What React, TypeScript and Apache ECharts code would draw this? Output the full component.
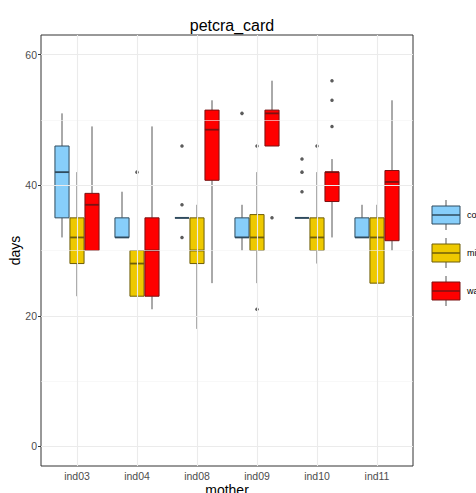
import React, { useEffect, useRef } from "react";
import * as echarts from "echarts";

// Mothers on the x axis, one dodged box per treatment group
const categories = ["ind03", "ind04", "ind08", "ind09", "ind10", "ind11"];
const groups = ["control", "milk", "water"];

// [lower whisker, Q1, median, Q3, upper whisker] per mother
const controlStats = [
  [32, 35, 42, 46, 51],
  [32, 32, 32, 35, 39],
  [35, 35, 35, 35, 35],
  [30, 32, 32, 35, 37],
  [35, 35, 35, 35, 35],
  [32, 32, 32, 35, 37],
];
const milkStats = [
  [23, 28, 32, 35, 42],
  [23, 23, 28, 30, 30],
  [18, 28, 30, 35, 37],
  [25, 30, 32, 35.5, 42],
  [28, 30, 32, 35, 42],
  [25, 25, 32, 35, 37],
];
const waterStats = [
  [30, 30, 37, 38.75, 49],
  [21, 23, 30, 35, 49],
  [25, 40.75, 48.5, 51.5, 53],
  [46, 46, 51, 51.5, 56],
  [32, 37.5, 42, 42, 44],
  [30, 31.5, 40.5, 42.25, 53],
];

// Outlying points: [mother, days]
const controlOutliers: [string, number][] = [
  ["ind08", 46], ["ind08", 37], ["ind08", 32],
  ["ind09", 51],
  ["ind10", 44], ["ind10", 42], ["ind10", 39],
];
const milkOutliers: [string, number][] = [
  ["ind04", 42],
  ["ind09", 46], ["ind09", 21],
  ["ind10", 46],
];
const waterOutliers: [string, number][] = [
  ["ind09", 35],
  ["ind10", 56], ["ind10", 53], ["ind10", 49],
];

const yTicks = [0, 20, 40, 60];
const yMinor = [10, 30, 50];

const fills = ["#87CEFA", "#EEC900", "#FF0000"];
const strokes = ["#2f4b5e", "#6e5e0a", "#7a1212"];
const offsets = [-0.25, 0, 0.25];
const BOX_W = 0.235;
const FONT = "'Liberation Sans', Arial, sans-serif";

function boxRenderer(offset: number, fill: string, stroke: string) {
  return (_params: any, api: any) => {
    const x = api.value(0) + offset;
    const lo = api.coord([x, api.value(1)]);
    const q1 = api.coord([x, api.value(2)]);
    const med = api.coord([x, api.value(3)]);
    const q3 = api.coord([x, api.value(4)]);
    const hi = api.coord([x, api.value(5)]);
    const half = api.size([BOX_W, 0])[0] / 2;
    const cx = med[0];
    return {
      type: "group",
      children: [
        {
          type: "line",
          shape: { x1: cx, y1: hi[1], x2: cx, y2: q3[1] },
          style: { stroke: "#555555", lineWidth: 1 },
        },
        {
          type: "line",
          shape: { x1: cx, y1: q1[1], x2: cx, y2: lo[1] },
          style: { stroke: "#555555", lineWidth: 1 },
        },
        {
          type: "rect",
          shape: { x: cx - half, y: q3[1], width: half * 2, height: q1[1] - q3[1] },
          style: { fill, stroke, lineWidth: 1 },
        },
        {
          type: "line",
          shape: { x1: cx - half, y1: med[1], x2: cx + half, y2: med[1] },
          style: { stroke, lineWidth: 1.8 },
        },
      ],
    };
  };
}

function legendKey(i: number, top: number) {
  const x = 432;
  const w = 28;
  const h = 18;
  const cx = x + w / 2;
  return [
    { type: "line", shape: { x1: cx, y1: top - 6, x2: cx, y2: top + h + 6 }, style: { stroke: "#555555", lineWidth: 1 } },
    { type: "rect", shape: { x, y: top, width: w, height: h }, style: { fill: fills[i], stroke: strokes[i], lineWidth: 1 } },
    { type: "line", shape: { x1: x, y1: top + h / 2, x2: x + w, y2: top + h / 2 }, style: { stroke: strokes[i], lineWidth: 1.5 } },
    {
      type: "text",
      x: 467,
      y: top + h / 2,
      style: { text: groups[i], fill: "#000000", font: `9px ${FONT}`, verticalAlign: "middle" },
    },
  ];
}

export default function App() {
  const ref = useRef<HTMLDivElement>(null);

  useEffect(() => {
    if (!ref.current) return;
    const chart = echarts.init(ref.current, null, { renderer: "svg" });
    const allStats = [controlStats, milkStats, waterStats];
    const allOutliers = [controlOutliers, milkOutliers, waterOutliers];

    const gridLines = [
      ...yTicks.map((v) => ({ yAxis: v, lineStyle: { color: "#ebebeb", width: 1.1 } })),
      ...yMinor.map((v) => ({ yAxis: v, lineStyle: { color: "#f4f4f4", width: 0.6 } })),
      ...categories.map((_, i) => ({ xAxis: i + 1, lineStyle: { color: "#ebebeb", width: 1.1 } })),
    ];

    const series: any[] = [
      {
        type: "scatter",
        data: [],
        silent: true,
        z: 0,
        markLine: {
          silent: true,
          symbol: ["none", "none"],
          label: { show: false },
          lineStyle: { type: "solid" },
          data: gridLines,
        },
      },
    ];

    allStats.forEach((stats, g) => {
      series.push({
        type: "custom",
        name: groups[g],
        z: 2,
        renderItem: boxRenderer(offsets[g], fills[g], strokes[g]),
        encode: { x: 0, y: [1, 2, 3, 4, 5] },
        data: stats.map((s, i) => [i + 1, ...s]),
      });
      series.push({
        type: "scatter",
        name: groups[g] + " outliers",
        z: 3,
        symbolSize: 3.5,
        itemStyle: { color: "#333333" },
        data: allOutliers[g].map(([m, v]) => [categories.indexOf(m) + 1 + offsets[g], v]),
      });
    });

    chart.setOption({
      animation: false,
      backgroundColor: "#ffffff",
      title: {
        text: "petcra_card",
        left: 227,
        top: 12,
        textAlign: "center",
        textStyle: { fontFamily: FONT, fontSize: 16, fontWeight: "normal", color: "#000000" },
      },
      grid: {
        left: 41,
        right: 63,
        top: 35,
        bottom: 27,
        show: true,
        borderColor: "#333333",
        borderWidth: 1,
        backgroundColor: "#ffffff",
        containLabel: false,
        outerBoundsMode: "none",
      },
      xAxis: {
        type: "value",
        min: 0.4,
        max: 6.6,
        name: "mother",
        nameLocation: "middle",
        nameGap: 17,
        nameMoveOverlap: false,
        nameTextStyle: { fontFamily: FONT, fontSize: 14, color: "#000000" },
        axisLine: { show: false },
        splitLine: { show: false },
        axisTick: {
          show: true,
          customValues: categories.map((_, i) => i + 1),
          length: 3,
          lineStyle: { color: "#333333" },
        },
        axisLabel: {
          customValues: categories.map((_, i) => i + 1),
          formatter: (v: number) => categories[Math.round(v) - 1] ?? "",
          fontFamily: FONT,
          fontSize: 10.5,
          color: "#4d4d4d",
          margin: 4,
        },
      },
      yAxis: {
        type: "value",
        min: -3,
        max: 63,
        name: "days",
        nameLocation: "middle",
        nameGap: 19,
        nameMoveOverlap: false,
        nameTextStyle: { fontFamily: FONT, fontSize: 14, color: "#000000" },
        axisLine: { show: false },
        splitLine: { show: false },
        axisTick: { show: true, customValues: yTicks, length: 3, lineStyle: { color: "#333333" } },
        axisLabel: {
          customValues: yTicks,
          fontFamily: FONT,
          fontSize: 10.5,
          color: "#4d4d4d",
          margin: 4,
        },
      },
      series,
      graphic: [...legendKey(0, 206), ...legendKey(1, 244), ...legendKey(2, 282)],
    });

    return () => chart.dispose();
  }, []);

  return (
    <div
      ref={ref}
      style={{ position: "fixed", left: 0, top: 0, width: 476, height: 493 }}
    />
  );
}
